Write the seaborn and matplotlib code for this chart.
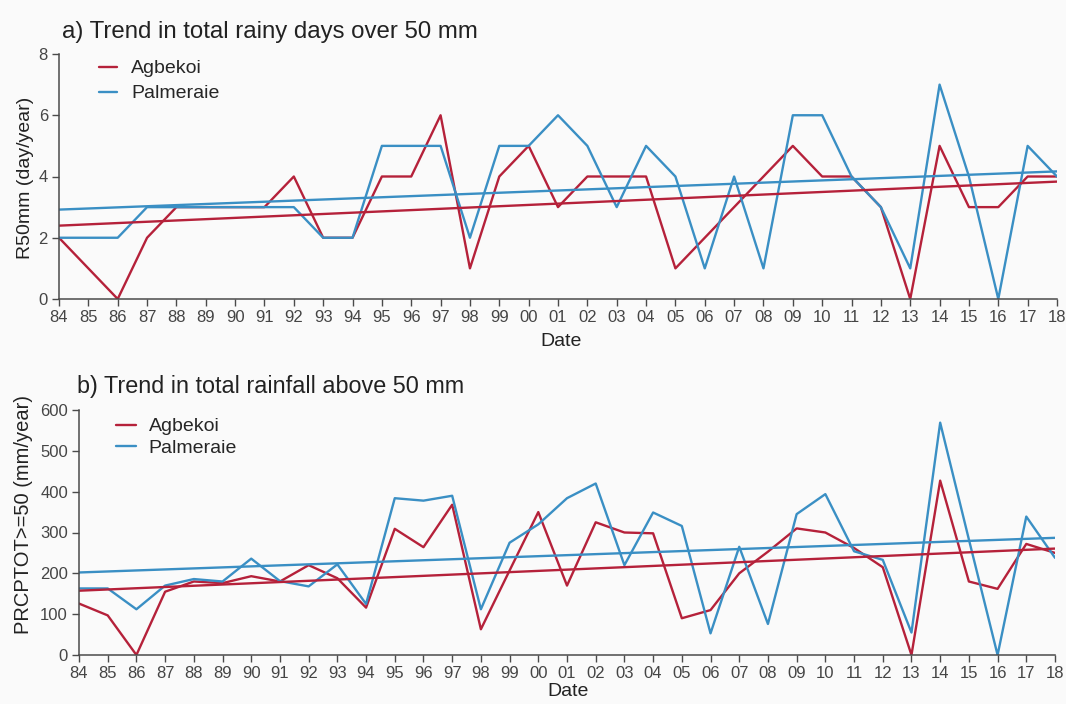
import numpy as np
import matplotlib
matplotlib.use("Agg")
import matplotlib.pyplot as plt
import seaborn as sns

# ---------------- data ----------------
years = list(range(1984, 2019))
year_labels = ["84", "85", "86", "87", "88", "89", "90", "91", "92", "93", "94",
               "95", "96", "97", "98", "99", "00", "01", "02", "03", "04", "05",
               "06", "07", "08", "09", "10", "11", "12", "13", "14", "15", "16",
               "17", "18"]

r50_agbekoi = [2, 1, 0, 2, 3, 3, 3, 3, 4, 2, 2, 4, 4, 6, 1, 4, 5, 3, 4, 4, 4,
               1, 2, 3, 4, 5, 4, 4, 3, 0, 5, 3, 3, 4, 4]
r50_palmeraie = [2, 2, 2, 3, 3, 3, 3, 3, 3, 2, 2, 5, 5, 5, 2, 5, 5, 6, 5, 3, 5,
                 4, 1, 4, 1, 6, 6, 4, 3, 1, 7, 4, 0, 5, 4]

prcp_agbekoi = [126, 97, 0, 155, 180, 176, 193, 180, 220, 188, 116, 309, 264,
                368, 63, 207, 350, 170, 325, 300, 298, 90, 110, 200, 253, 310,
                300, 262, 215, 0, 427, 180, 162, 272, 250]
prcp_palmeraie = [163, 163, 112, 170, 186, 180, 236, 181, 168, 222, 125, 384,
                  378, 390, 112, 275, 320, 384, 420, 220, 349, 316, 53, 265, 76,
                  345, 394, 254, 233, 55, 569, 283, 0, 339, 238]

series_names = ["Agbekoi", "Palmeraie"]
series_colors = ["#b5213a", "#3a8fc4"]

titles = ["a) Trend in total rainy days over 50 mm",
          "b) Trend in total rainfall above 50 mm"]
ylabels = ["R50mm (day/year)", "PRCPTOT>=50 (mm/year)"]
xlabel = "Date"
yticks_top = [0, 2, 4, 6, 8]
yticks_bottom = [0, 100, 200, 300, 400, 500, 600]

# ---------------- style ----------------
sns.set_theme(style="ticks")
plt.rcParams["font.family"] = ["Liberation Sans", "DejaVu Sans"]
bg = "#fafafa"
axis_col = "#4a4a4a"

W, H = 1066, 704
fig = plt.figure(figsize=(W / 100, H / 100), dpi=100, facecolor=bg)


def px_axes(left, right, top, bottom):
    return fig.add_axes([left / W, 1 - bottom / H, (right - left) / W, (bottom - top) / H])


ax1 = px_axes(59, 1057, 54, 299)
ax2 = px_axes(79, 1055, 410, 655)

panels = [
    (ax1, [r50_agbekoi, r50_palmeraie], yticks_top, (0, 8)),
    (ax2, [prcp_agbekoi, prcp_palmeraie], yticks_bottom, (0, 600)),
]

for ax, series, yt, ylim in panels:
    ax.set_facecolor(bg)
    for vals, name, col in zip(series, series_names, series_colors):
        sns.lineplot(x=years, y=vals, color=col, lw=1.7, label=name, ax=ax)
    for vals, col in zip(series, series_colors):
        sns.regplot(x=np.array(years), y=np.array(vals), scatter=False, ci=None,
                    color=col, line_kws=dict(lw=1.7), ax=ax)
    ax.set_xlim(years[0], years[-1])
    ax.set_ylim(*ylim)
    ax.set_xticks(years)
    ax.set_xticklabels(year_labels)
    ax.set_yticks(yt)
    sns.despine(ax=ax)
    for s in ("left", "bottom"):
        ax.spines[s].set_color(axis_col)
        ax.spines[s].set_linewidth(1.1)
    ax.tick_params(axis="both", direction="out", length=5, width=1.0,
                   color=axis_col, labelcolor="#454545", labelsize=12, pad=3)

# labels
ax1.set_ylabel(ylabels[0], fontsize=14, color="#222222", va="center", ha="center")
ax1.yaxis.set_label_coords((26 - 59) / 998, (299 - 178) / 245)
ax2.set_ylabel(ylabels[1], fontsize=14.5, color="#222222", va="center", ha="center")
ax2.yaxis.set_label_coords((24 - 79) / 976, (655 - 515) / 245)

ax1.set_xlabel(xlabel, fontsize=14, color="#222222", va="center")
ax1.xaxis.set_label_coords((561 - 59) / 998, (299 - 341) / 245)
ax2.set_xlabel(xlabel, fontsize=14, color="#222222", va="center")
ax2.xaxis.set_label_coords((568 - 79) / 976, (655 - 692) / 245)

fig.text(62 / W, 1 - 32 / H, titles[0], fontsize=17.3, color="#222222",
         ha="left", va="center")
fig.text(77 / W, 1 - 386 / H, titles[1], fontsize=16.8, color="#222222",
         ha="left", va="center")

# legends
ax1.legend(loc="upper left", bbox_to_anchor=((93 - 59) / 998, 1.0), frameon=False,
           fontsize=14, handlelength=0.95, handletextpad=0.7, labelspacing=0.38,
           borderaxespad=0, borderpad=0.3)
ax2.legend(loc="upper left", bbox_to_anchor=((108 - 79) / 976, 1.0), frameon=False,
           fontsize=14, handlelength=1.05, handletextpad=0.65, labelspacing=0.22,
           borderaxespad=0, borderpad=0.4)

fig.savefig("out.png", dpi=100, facecolor=bg)
